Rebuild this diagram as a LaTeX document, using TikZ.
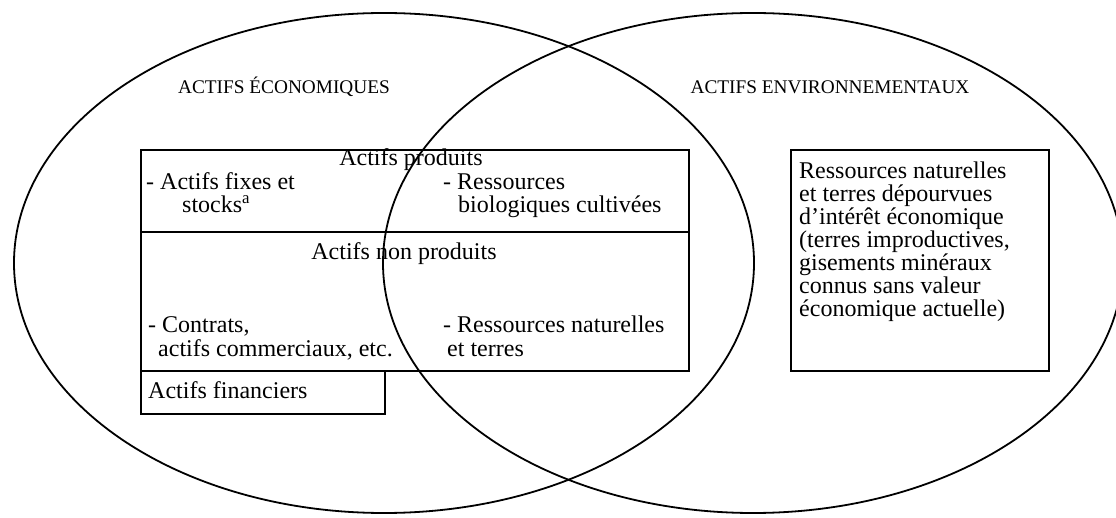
\documentclass[tikz,border=0pt]{standalone}
\usepackage{fontspec}
\setmainfont{Liberation Serif}
\usetikzlibrary{shapes.geometric,positioning}

\tikzset{
	oval/.style={draw, ellipse, line width=1.8pt, minimum width=740pt, minimum height=500pt, inner sep=0pt},
	cell/.style={draw, line width=2.2pt, anchor=north west, inner sep=0pt},
	txt/.style={font=\fontsize{24}{23}\selectfont, inner sep=0pt, anchor=base west},
	head/.style={font=\fontsize{19.3}{20}\selectfont, inner sep=0pt}
}

\begin{document}
\begin{tikzpicture}[x=1pt,y=-1pt]
	\useasboundingbox (0,0) rectangle (1116,518);
	\node (eco) [oval] at (384,263) {};
	\node (env) [oval] at (753,263) {};
	\node (ecot) [head] at (284,87) {ACTIFS ÉCONOMIQUES};
	\node (envt) [head] at (830,87) {ACTIFS ENVIRONNEMENTAUX};
	\node (prod) [cell, minimum width=548pt, minimum height=82pt] at (140,149) {};
	\node (nonprod) [cell, minimum width=548pt, minimum height=139pt] at (140,231) {};
	\node (fin) [cell, minimum width=244pt, minimum height=43pt] at (140,370) {};
	\node (natbox) [cell, minimum width=258pt, minimum height=221pt] at (790,149) {};
	\node (prodt) [txt, anchor=base] at (411,166) {Actifs produits};
	\node (fixes) [txt] at (146,190) {- Actifs fixes et};
	\node (stocks) [txt] at (182,213) {stocks\textsuperscript{a}};
	\node (bio) [txt] at (443,190) {- Ressources};
	\node (bio2) [txt] at (458,213) {biologiques cultivées};
	\node (nonprodt) [txt, anchor=base] at (404,260) {Actifs non produits};
	\node (contrats) [txt] at (148,333) {- Contrats,};
	\node (comm) [txt] at (158,357) {actifs commerciaux, etc.};
	\node (natres) [txt] at (443,333) {- Ressources naturelles};
	\node (terres) [txt] at (447,357) {et terres};
	\node (fint) [txt] at (148,399) {Actifs financiers};
	\node (nat) [txt, align=left, below right=13pt and 9pt of natbox.north west] {Ressources naturelles\\et terres dépourvues\\d’intérêt économique\\(terres improductives,\\gisements minéraux\\connus sans valeur\\économique actuelle)};
\end{tikzpicture}
\end{document}
